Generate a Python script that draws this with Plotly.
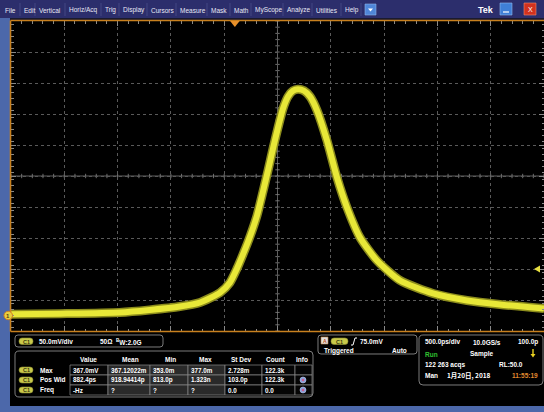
import plotly.graph_objects as go

# ---------------- data ----------------
time_ns = [-2.50, -2.04, -1.48, -1.20, -0.915, -0.727, -0.539, -0.446, -0.380, -0.324,
           -0.258, -0.192, -0.136, -0.089, -0.042, 0.005, 0.052, 0.099, 0.145, 0.192,
           0.249, 0.305, 0.371, 0.464, 0.558, 0.652, 0.774, 0.933, 1.149, 1.459,
           1.778, 2.087, 2.50]
volt_mv = [2.0, 3.0, 5.0, 9.0, 14.5, 21.0, 36.9, 53.2, 75.8, 98.4,
           127.4, 161.3, 200.0, 233.9, 269.4, 303.2, 333.9, 353.2, 362.5, 365.0,
           362.5, 353.2, 330.6, 282.3, 222.6, 174.2, 125.8, 88.7, 56.5, 35.5,
           24.2, 17.7, 11.3]

menu_items = ["File", "Edit", "Vertical", "Horiz/Acq", "Trig", "Display", "Cursors",
              "Measure", "Mask", "Math", "MyScope", "Analyze", "Utilities", "Help"]
table_headers = ["Value", "Mean", "Min", "Max", "St Dev", "Count", "Info"]
row_labels = ["Max", "Pos Wid", "Freq"]
table_values = [
    ["367.0mV", "367.12022m", "353.0m", "377.0m", "2.728m", "122.3k"],
    ["882.4ps", "918.94414p", "813.0p", "1.323n", "103.0p", "122.3k"],
    ["-Hz", "?", "?", "?", "0.0", "0.0"],
]
trigger_level_mv = 75.0
trigger_pos_ns = -0.4

# ---------------- geometry helpers ----------------
W, H = 544, 412
L, R, T, B = 11, 544, 21, 331
X0, X1 = -2.5, 2.5
Y0, Y1 = -25.0, 475.0


def px(x):
    return (x - L) / (R - L)


def py(y):
    return (B - y) / (B - T)


shapes = []
ann = []
FONT = "Liberation Sans"


def rect(x0, y0, x1, y1, fill, line=None, lw=0, layer="above"):
    shapes.append(dict(type="rect", xref="paper", yref="paper",
                       x0=px(x0), x1=px(x1), y0=py(y1), y1=py(y0),
                       fillcolor=fill, line=dict(color=line or fill, width=lw),
                       layer=layer))


def rrect(x0, y0, x1, y1, r, fill, line, lw=1):
    def P(x, y):
        return f"{px(x):.5f},{py(y):.5f}"
    path = (f"M{P(x0 + r, y0)} L{P(x1 - r, y0)} Q{P(x1, y0)} {P(x1, y0 + r)} "
            f"L{P(x1, y1 - r)} Q{P(x1, y1)} {P(x1 - r, y1)} L{P(x0 + r, y1)} "
            f"Q{P(x0, y1)} {P(x0, y1 - r)} L{P(x0, y0 + r)} Q{P(x0, y0)} {P(x0 + r, y0)} Z")
    shapes.append(dict(type="path", xref="paper", yref="paper", path=path,
                       fillcolor=fill, line=dict(color=line, width=lw), layer="above"))


def poly(pts, fill, lc=None, lw=0):
    path = "M" + " L".join(f"{px(x):.5f},{py(y):.5f}" for x, y in pts) + " Z"
    shapes.append(dict(type="path", xref="paper", yref="paper", path=path,
                       fillcolor=fill, line=dict(color=lc or fill, width=lw), layer="above"))


def line(x0, y0, x1, y1, color, w=1):
    shapes.append(dict(type="line", xref="paper", yref="paper",
                       x0=px(x0), x1=px(x1), y0=py(y0), y1=py(y1),
                       line=dict(color=color, width=w), layer="above"))


def text(x, y, s, size=7, color="white", anchor="left", bold=True, family=FONT):
    if bold:
        s = f"<b>{s}</b>"
    ann.append(dict(xref="paper", yref="paper", x=px(x), y=py(y), text=s,
                    showarrow=False, xanchor=anchor, yanchor="middle",
                    font=dict(size=size, color=color, family=family), borderpad=0))


def badge(x0, y0, x1, y1):
    rrect(x0, y0, x1, y1, 3, "#c9c94a", "#8a8a30", 0.6)
    text((x0 + x1) / 2, (y0 + y1) / 2 + 0.3, "C1", size=5.5, color="#3a3a10", anchor="center")


# ---------------- window chrome ----------------
rect(0, 0, 544, 18, "#2c2e6c")
rect(0, 18, 544, 20, "#1a1a30")
rect(0, 18, 10, 412, "#4c68aa")
rect(0, 406, 544, 412, "#4c68aa")

menu_x = [4, 23, 38, 68, 104, 122, 150, 179, 210, 233, 254, 286, 315, 344]
for i, (m, mx) in enumerate(zip(menu_items, menu_x)):
    text(mx, 10.5, m, size=6.5, color="#e8e8f4", bold=False)
    sep = menu_x[i + 1] - 3 if i + 1 < len(menu_x) else 361
    line(sep, 3, sep, 16, "#4a4e8c", 0.8)

rect(365, 4, 376, 15, "#4f86d8", "#8fb3ea", 0.6)
poly([(368, 8.5), (373, 8.5), (370.5, 11.5)], "white")
text(486, 10, "Tek", size=9, color="white", anchor="center")
rect(500, 3, 512, 15, "#3f7fd6", "#90b8ee", 0.6)
line(503, 12, 509, 12, "white", 1.2)
rect(524, 3, 536, 15, "#d2321e", "#f08a70", 0.6)
text(530, 9.5, "X", size=7, color="white", anchor="center", bold=False)

# orange borders of the graticule
line(10.5, 20.5, 544, 20.5, "#c8801e", 1.6)
line(10.5, 20.5, 10.5, 331.5, "#c8801e", 1.6)
line(10.5, 331.5, 544, 331.5, "#c8801e", 1.6)

# center cross tick marks
xm = (X0 + X1) / 2
ym = (Y0 + Y1) / 2
nx = 50
for k in range(nx + 1):
    t = X0 + k * (X1 - X0) / nx
    shapes.append(dict(type="line", xref="x", yref="paper", x0=t, x1=t,
                       y0=0.5 - 2.2 / 310, y1=0.5 + 2.2 / 310,
                       line=dict(color="#8a8a8a", width=0.8), layer="below"))
for k in range(nx + 1):
    v = Y0 + k * (Y1 - Y0) / nx
    shapes.append(dict(type="line", xref="paper", yref="y", y0=v, y1=v,
                       x0=0.5 - 2.2 / 533, x1=0.5 + 2.2 / 533,
                       line=dict(color="#8a8a8a", width=0.8), layer="below"))
shapes.append(dict(type="line", xref="x", yref="paper", x0=xm, x1=xm, y0=0, y1=1,
                   line=dict(color="#7a7a7a", width=0.8), layer="below"))
shapes.append(dict(type="line", xref="paper", yref="y", x0=0, x1=1, y0=ym, y1=ym,
                   line=dict(color="#7a7a7a", width=0.8), layer="below"))

# trigger position marker (top)
shapes.append(dict(type="path", xref="x", yref="paper",
                   path=f"M{trigger_pos_ns - 0.045},{1.0} L{trigger_pos_ns + 0.045},{1.0} "
                        f"L{trigger_pos_ns},{1 - 6 / 310} Z",
                   fillcolor="#e8902a", line=dict(color="#e8902a", width=0), layer="above"))
# trigger level marker (right)
shapes.append(dict(type="path", xref="paper", yref="y",
                   path=f"M{px(534)},{trigger_level_mv} L{px(540)},{trigger_level_mv + 5.5} "
                        f"L{px(540)},{trigger_level_mv - 5.5} Z",
                   fillcolor="#e8e040", line=dict(color="#e8e040", width=0), layer="above"))
# ground marker "1"
shapes.append(dict(type="circle", xref="paper", yref="y",
                   x0=px(4), x1=px(12.5), y0=0 - 6.8, y1=0 + 6.8,
                   fillcolor="#e8d040", line=dict(color="#d08020", width=1), layer="above"))
ann.append(dict(xref="paper", yref="y", x=px(8.3), y=0, text="<b>1</b>", showarrow=False,
                xanchor="center", yanchor="middle",
                font=dict(size=6, color="#5a4010", family=FONT)))

# ---------------- bottom panels ----------------
rrect(15, 335, 163, 347, 3, "#000000", "#9a9a9a", 0.8)
badge(19, 338, 33, 344.5)
text(38, 341.5, "50.0mV/div", size=6.5)
text(99, 341.5, "50Ω", size=6.5)
text(115, 341.5, "<sup>B</sup>W:2.0G", size=6.5)

rrect(15, 351, 313, 397, 4, "#000000", "#9a9a9a", 0.8)
col_edges = [70, 108, 150, 188, 225, 262, 295, 312]
row_edges = [365, 375, 385, 395]
head_x = [88, 130, 170, 205, 241, 276, 302]
for h, hx in zip(table_headers, head_x):
    text(hx, 359, h, size=6.5, anchor="center")
for r_i in range(3):
    y0, y1 = row_edges[r_i], row_edges[r_i + 1]
    badge(19, y0 + 2, 33, y1 - 2)
    text(39, (y0 + y1) / 2, row_labels[r_i], size=6.5)
    for c_i in range(7):
        x0, x1 = col_edges[c_i], col_edges[c_i + 1]
        fill = "#2a2a2a" if c_i in (1, 2, 3) else "#050505"
        rect(x0, y0, x1, y1, fill, "#8a8a8a", 0.7)
        if c_i < 6:
            text(x0 + 1.5, (y0 + y1) / 2, table_values[r_i][c_i], size=6.3)
for r_i in (1, 2):
    cy = (row_edges[r_i] + row_edges[r_i + 1]) / 2
    shapes.append(dict(type="circle", xref="paper", yref="paper",
                       x0=px(300), x1=px(306), y0=py(cy + 3), y1=py(cy - 3),
                       fillcolor="#8aa0d8", line=dict(color="#c0c8f0", width=0.6), layer="above"))
    shapes.append(dict(type="circle", xref="paper", yref="paper",
                       x0=px(301.8), x1=px(304.2), y0=py(cy + 1.2), y1=py(cy - 1.2),
                       fillcolor="#d05a8a", line=dict(width=0), layer="above"))

# trigger panel
rrect(318, 335, 417, 354, 3, "#000000", "#9a9a9a", 0.8)
rect(321, 337, 328, 344, "#e0e0e0", "#c08040", 0.6)
text(324.5, 340.7, "A", size=5, color="#c05010", anchor="center")
badge(331, 338, 348, 344.5)
shapes.append(dict(type="path", xref="paper", yref="paper",
                   path=f"M{px(351)},{py(345)} L{px(353)},{py(345)} L{px(355)},{py(338)} L{px(357)},{py(338)}",
                   line=dict(color="white", width=1), layer="above"))
text(359, 341.5, f"{trigger_level_mv:.1f}mV", size=6.5)
text(323, 350.5, "Triggered", size=6.5)
text(408, 350.5, "Auto", size=6.5, anchor="right")

# horizontal panel
rrect(419, 335, 543, 385, 4, "#000000", "#9a9a9a", 0.8)
text(424, 342, "500.0ps/div", size=6.5)
text(472, 342, "10.0GS/s", size=6.5)
text(539, 342, "100.0p", size=6.5, anchor="right")
text(424, 354, "Run", size=6.5, color="#30c030")
text(469, 354, "Sample", size=6.5)
line(533, 349, 533, 355, "#e8d020", 1.4)
poly([(530.5, 354), (535.5, 354), (533, 357.5)], "#e8d020")
text(424, 364.5, "122 263 acqs", size=6.5)
text(498, 364.5, "RL:50.0", size=6.5)
text(424, 375, "Man", size=6.5)
text(446, 375, "1月20日, 2018", size=6.5, family="Noto Sans CJK SC")
text(539, 375, "11:55:19", size=6.5, color="#e08a30", anchor="right")

# ---------------- traces ----------------
fig = go.Figure()
fig.add_trace(go.Scatter(x=time_ns, y=volt_mv, mode="lines",
                         line=dict(color="#8c8c1c", width=9, shape="spline", smoothing=0.6),
                         hoverinfo="skip", showlegend=False))
fig.add_trace(go.Scatter(x=time_ns, y=volt_mv, mode="lines",
                         line=dict(color="#e8e838", width=6, shape="spline", smoothing=0.6),
                         hoverinfo="skip", showlegend=False))

axis_common = dict(showgrid=True, gridcolor="#5a5a5a", griddash="dot", gridwidth=0.8,
                   zeroline=False, showline=False, showticklabels=False,
                   ticks="inside", ticklen=5, tickcolor="#8a8a8a", tickwidth=0.8,
                   mirror="allticks", fixedrange=True)
fig.update_layout(
    width=W, height=H,
    margin=dict(l=L, r=W - R, t=T, b=H - B, pad=0),
    paper_bgcolor="#000000", plot_bgcolor="#000000",
    xaxis=dict(range=[X0, X1], dtick=0.5, tick0=X0,
               minor=dict(dtick=0.1, ticks="inside", ticklen=2.5, tickcolor="#8a8a8a", showgrid=False),
               **axis_common),
    yaxis=dict(range=[Y0, Y1], dtick=50, tick0=Y0,
               minor=dict(dtick=10, ticks="inside", ticklen=2.5, tickcolor="#8a8a8a", showgrid=False),
               **axis_common),
    shapes=shapes, annotations=ann, showlegend=False,
)

fig.write_html("out.html", config={"displayModeBar": False},
               post_script="document.body.style.margin='0';document.body.style.overflow='hidden';")
